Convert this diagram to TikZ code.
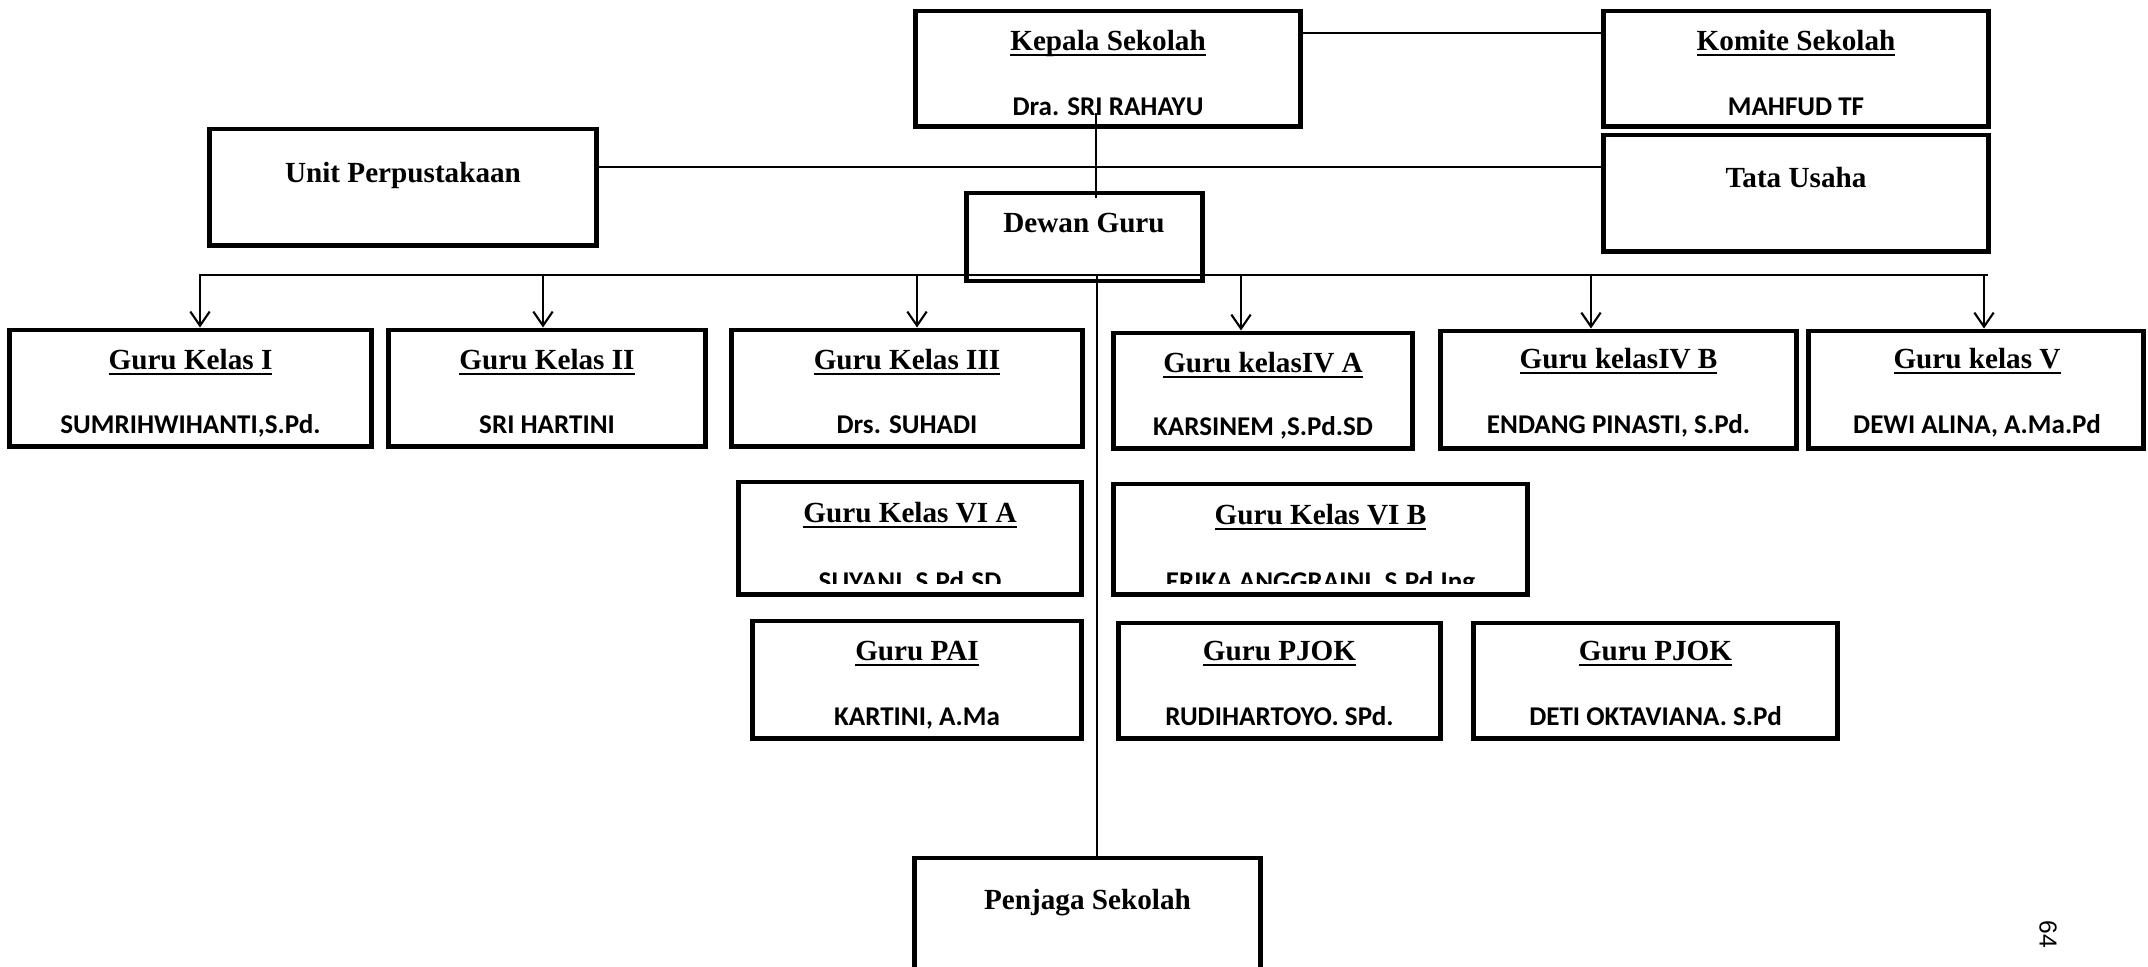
\documentclass[tikz,border=0pt]{standalone}
\usepackage{fontspec}
\setmainfont{Liberation Serif}
\newfontfamily\namefont{Carlito}
\newfontfamily\pagefont{Liberation Sans}
\usetikzlibrary{arrows.meta}

\newcommand{\tline}[1]{\setbox0=\hbox{#1}\rlap{\rule[-1.7pt]{\wd0}{0.6pt}}\box0}

\tikzset{
  box/.style={draw, rectangle, line width=1.4pt, inner sep=0pt},
  ttl/.style={font=\fontsize{8.3}{10}\selectfont\bfseries, anchor=base, inner sep=0pt},
  nm/.style={font=\namefont\fontsize{7.7}{9}\selectfont\bfseries, anchor=base, inner sep=0pt},
  link/.style={line width=0.6pt},
  arr/.style={line width=0.6pt, -{Straight Barb[length=4pt,width=5.5pt]}}
}

\begin{document}
\begin{tikzpicture}[x=0.01cm, y=-0.01cm]
\clip (0,0) rectangle (2148,966);

% top
\node[box, minimum width=3.85cm, minimum height=1.15cm] (kepala) at (1108,68.5) {};
\node[box, minimum width=3.85cm, minimum height=1.15cm] (komite) at (1796,68.5) {};
\node[box, minimum width=3.85cm, minimum height=1.16cm] (tata) at (1796,193) {};
\node[box, minimum width=3.87cm, minimum height=1.16cm] (unit) at (403,187) {};
\node[box, minimum width=2.35cm, minimum height=0.88cm] (dewan) at (1084.5,237) {};

\node[ttl] (kepalaT) at (1108,50) {\tline{Kepala Sekolah}};
\node[nm] (kepalaN) at (1108,115) {Dra. SRI RAHAYU};
\node[ttl] (komiteT) at (1796,50) {\tline{Komite Sekolah}};
\node[nm] (komiteN) at (1796,115) {MAHFUD TF};
\node[ttl] (tataT) at (1796,187) {Tata Usaha};
\node[ttl] (unitT) at (403,182) {Unit Perpustakaan};
\node[ttl] (dewanT) at (1084,232) {Dewan Guru};

% guru kelas
\node[box, minimum width=3.61cm, minimum height=1.16cm] (g1) at (190.5,388) {};
\node[box, minimum width=3.16cm, minimum height=1.16cm] (g2) at (547,388) {};
\node[box, minimum width=3.50cm, minimum height=1.16cm] (g3) at (907,388) {};
\node[box, minimum width=2.98cm, minimum height=1.15cm] (g4a) at (1263,390.5) {};
\node[box, minimum width=3.55cm, minimum height=1.17cm] (g4b) at (1618.5,389.5) {};
\node[box, minimum width=3.34cm, minimum height=1.17cm] (g5) at (1976,389.5) {};

\node[ttl] (g1T) at (190.5,369) {\tline{Guru Kelas I}};
\node[nm] (g1N) at (190.5,433) {SUMRIHWIHANTI,S.Pd.};
\node[ttl] (g2T) at (547,369) {\tline{Guru Kelas II}};
\node[nm] (g2N) at (547,433) {SRI HARTINI};
\node[ttl] (g3T) at (907,369) {\tline{Guru Kelas III}};
\node[nm] (g3N) at (907,433) {Drs. SUHADI};
\node[ttl] (g4aT) at (1263,372) {\tline{Guru kelasIV A}};
\node[nm] (g4aN) at (1263,435) {KARSINEM ,S.Pd.SD};
\node[ttl] (g4bT) at (1618.5,368) {\tline{Guru kelasIV B}};
\node[nm] (g4bN) at (1618.5,433) {ENDANG PINASTI, S.Pd.};
\node[ttl] (g5T) at (1977,368) {\tline{Guru kelas V}};
\node[nm] (g5N) at (1977,433) {DEWI ALINA, A.Ma.Pd};

% kelas VI
\node[box, minimum width=3.42cm, minimum height=1.12cm] (g6a) at (910,538) {};
\node[box, minimum width=4.13cm, minimum height=1.10cm] (g6b) at (1320.5,539) {};
\node[ttl] (g6aT) at (910,522) {\tline{Guru Kelas VI A}};
\node[ttl] (g6bT) at (1320.5,524) {\tline{Guru Kelas VI B}};
\begin{scope}
  \clip (740,560) rectangle (2100,583);
  \node[nm] (g6aN) at (910,590) {SUYANI, S.Pd.SD};
  \node[nm] (g6bN) at (1320.5,590) {ERIKA ANGGRAINI, S.Pd.Ing};
\end{scope}

% mapel
\node[box, minimum width=3.28cm, minimum height=1.17cm] (pai) at (917,679.5) {};
\node[box, minimum width=3.21cm, minimum height=1.15cm] (pjok1) at (1279.5,680.5) {};
\node[box, minimum width=3.63cm, minimum height=1.15cm] (pjok2) at (1655.5,680.5) {};
\node[ttl] (paiT) at (917,660) {\tline{Guru PAI}};
\node[nm] (paiN) at (917,725) {KARTINI, A.Ma};
\node[ttl] (pjok1T) at (1279.5,660) {\tline{Guru PJOK}};
\node[nm] (pjok1N) at (1279.5,725) {RUDIHARTOYO. SPd.};
\node[ttl] (pjok2T) at (1655.5,660) {\tline{Guru PJOK}};
\node[nm] (pjok2N) at (1655.5,725) {DETI OKTAVIANA. S.Pd};

% penjaga
\node[box, minimum width=3.45cm, minimum height=1.44cm] (penjaga) at (1087.5,930) {};
\node[ttl] (penjagaT) at (1087.5,909) {Penjaga Sekolah};

% lines
\draw[link] ([yshift=0.355cm]kepala.east) -- ([yshift=0.355cm]komite.west);
\coordinate (ut) at (0,167);
\draw[link] (unit.east |- ut) -- (tata.west |- ut);
\coordinate (v1) at (1096,113);
\coordinate (v2) at (1096,198);
\draw[link] (v1) -- (v2);
\coordinate (busL) at (199,275);
\coordinate (busR) at (1988,275);
\draw[link] (busL) -- (busR);
\coordinate (vtop) at (1097,275);
\draw[link] (vtop) -- (vtop |- penjaga.north);

\foreach \x/\b in {200/g1, 543/g2, 917/g3, 1241/g4a, 1591/g4b, 1984/g5}
  \draw[arr] (\x,275) -- (\x,275 |- \b.north);

% nomor halaman
\node[font=\pagefont\fontsize{7}{8}\selectfont, rotate=-90] (hal) at (2048,934) {64};
\end{tikzpicture}
\end{document}
